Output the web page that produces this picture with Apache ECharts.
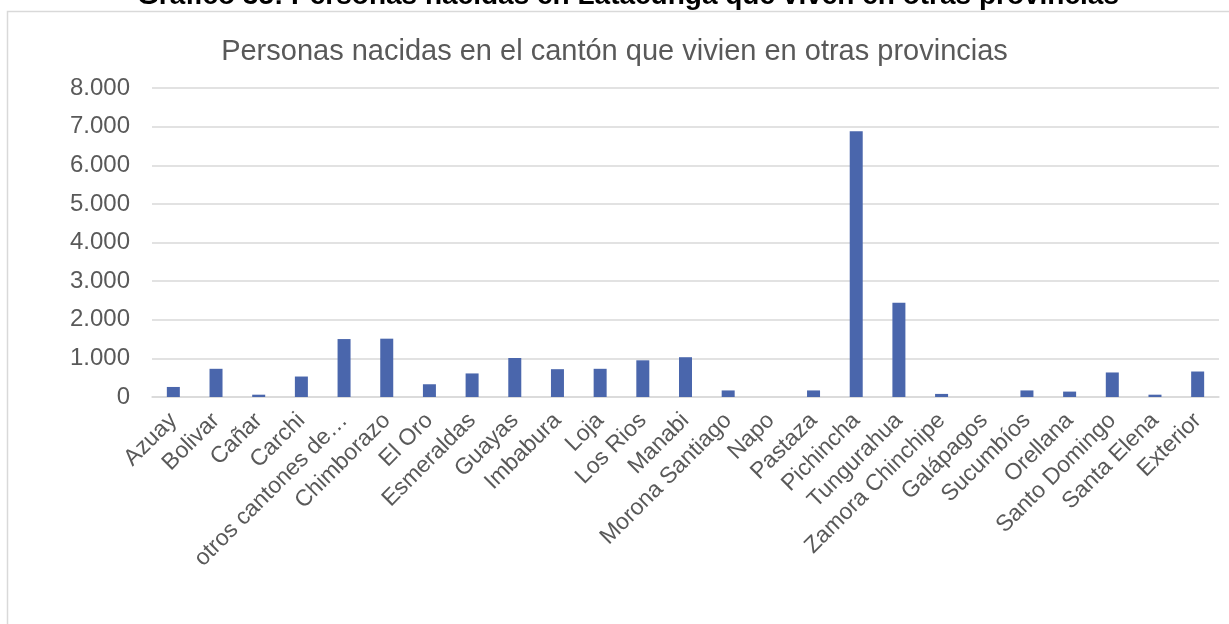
<!DOCTYPE html>
<html>
<head>
<meta charset="utf-8">
<script src="https://cdn.jsdelivr.net/npm/echarts@6/dist/echarts.min.js"></script>
<style>html,body{margin:0;padding:0;background:#fff}#c{width:1229px;height:624px}</style>
</head>
<body>
<div id="c"></div>
<script>
const categories = ['Azuay','Bolivar','Cañar','Carchi','otros cantones de…','Chimborazo','El Oro','Esmeraldas','Guayas','Imbabura','Loja','Los Rios','Manabi','Morona Santiago','Napo','Pastaza','Pichincha','Tungurahua','Zamora Chinchipe','Galápagos','Sucumbíos','Orellana','Santo Domingo','Santa Elena','Exterior'];
const values = [260,730,60,530,1500,1510,330,610,1010,720,730,950,1030,170,0,170,6880,2440,80,0,170,140,635,60,660];
const mainTitle = 'Gráfico 35: Personas nacidas en Latacunga que viven en otras provincias';
const chartTitle = 'Personas nacidas en el cantón que vivien en otras provincias';

const chart = echarts.init(document.getElementById('c'));
const fmt = v => String(v).replace(/\B(?=(\d{3})+(?!\d))/g, '.');
chart.setOption({
  animation: false,
  title: {
    text: chartTitle, left: 'center', top: 32,
    textStyle: {color: '#595959', fontFamily: 'Liberation Sans, Arial', fontSize: 29, fontWeight: 'normal'}
  },
  graphic: [
    {type: 'rect', shape: {x: 7.5, y: 11.5, width: 1240, height: 640}, style: {fill: 'none', stroke: '#d9d9d9', lineWidth: 1.5}, silent: true},
    {type: 'text', x: 628, y: 10, style: {text: mainTitle, fill: '#000', font: 'bold 28px "Liberation Sans", Arial', align: 'center', verticalAlign: 'bottom'}}
  ],
  grid: {left: 152, right: 10, top: 88, bottom: 227, containLabel: false},
  xAxis: {
    type: 'category', data: categories,
    axisLine: {lineStyle: {color: '#d9d9d9', width: 1.5}},
    axisTick: {show: false},
    axisLabel: {rotate: 45, interval: 0, color: '#595959', fontSize: 23, fontFamily: 'Liberation Sans, Arial', margin: 20}
  },
  yAxis: {
    type: 'value', min: 0, max: 8000, interval: 1000,
    axisLine: {show: false}, axisTick: {show: false},
    splitLine: {lineStyle: {color: '#d9d9d9', width: 1.5}},
    axisLabel: {color: '#595959', fontSize: 24, fontFamily: 'Liberation Sans, Arial', margin: 22, formatter: fmt}
  },
  series: [{
    type: 'bar', data: values, barWidth: 13,
    itemStyle: {color: '#4a66ac'}
  }]
});
</script>
</body>
</html>
